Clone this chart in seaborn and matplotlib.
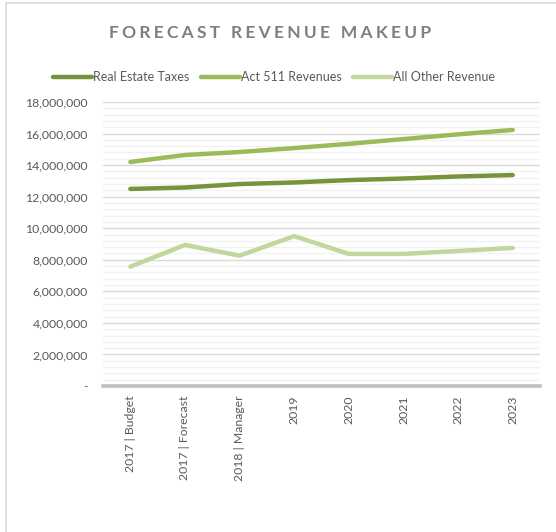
import matplotlib
matplotlib.use("Agg")
import matplotlib.pyplot as plt
import seaborn as sns
import pandas as pd
from matplotlib.ticker import MultipleLocator, FuncFormatter
from matplotlib.lines import Line2D

categories = ["2017 | Budget", "2017 | Forecast", "2018 | Manager", "2019",
              "2020", "2021", "2022", "2023"]
real_estate = [12490000, 12580000, 12800000, 12900000, 13050000, 13150000, 13280000, 13370000]
act511 = [14200000, 14640000, 14830000, 15080000, 15350000, 15650000, 15950000, 16230000]
other = [7560000, 8940000, 8260000, 9500000, 8370000, 8370000, 8560000, 8750000]
series_names = ["Real Estate Taxes", "Act 511 Revenues", "All Other Revenue"]
colors = ["#77933C", "#9BBB59", "#C3D69B"]

sns.set_theme(style="white")
plt.rcParams['font.family'] = ['Lato', 'DejaVu Sans']

rows = []
for name, vals in zip(series_names, [real_estate, act511, other]):
    for i, (c, v) in enumerate(zip(categories, vals)):
        rows.append({"pos": i, "cat": c, "series": name, "value": v})
df = pd.DataFrame(rows)

fig = plt.figure(figsize=(5.56, 5.32), dpi=100)
ax = fig.add_axes([103/556, 1-386/532, (540-103)/556, (386-102)/532])

sns.lineplot(data=df, x="pos", y="value", hue="series", hue_order=series_names,
             palette=colors, ax=ax, linewidth=3.2, legend=False, sort=False)
for ln in ax.get_lines():
    ln.set_solid_capstyle("round")
    ln.set_solid_joinstyle("round")
    ln.set_zorder(3)

ax.set_xlim(-0.5, len(categories) - 0.5)
ax.set_ylim(0, 18000000)
ax.yaxis.set_major_locator(MultipleLocator(2000000))
ax.yaxis.set_minor_locator(MultipleLocator(400000))
ax.yaxis.set_major_formatter(FuncFormatter(lambda v, p: "-" if v == 0 else f"{int(v):,}"))
ax.set_xticks(range(len(categories)))
ax.set_xticklabels(categories, rotation=90, va="top", ha="center")

ax.grid(which="major", axis="y", color="#D9D9D9", linewidth=1.0, zorder=0)
ax.grid(which="minor", axis="y", color="#F2F2F2", linewidth=1.0, zorder=0)
ax.grid(which="major", axis="x", visible=False)
ax.set_axisbelow(True)

for s in ["top", "right", "left"]:
    ax.spines[s].set_visible(False)
ax.spines["bottom"].set_color("#BFBFBF")
ax.spines["bottom"].set_linewidth(2.6)
ax.spines["bottom"].set_zorder(1)

ax.tick_params(axis="y", which="both", length=0, pad=11, labelsize=8.8, labelcolor="#595959")
ax.tick_params(axis="x", which="both", length=0, pad=7, labelsize=8.8, labelcolor="#595959")
ax.set_xlabel("")
ax.set_ylabel("")

# Title with letter spacing
sp = "\u2009\u200a"
title = sp.join("FORECAST") + "\u2002\u2009" + sp.join("REVENUE") + "\u2002\u2009" + sp.join("MAKEUP")
fig.text(270/556, 1-33/532, title, ha="center", va="center", fontsize=12.5,
         fontweight="bold", color="#7F7F7F")

handles = [Line2D([0], [0], color=c, linewidth=3.2, solid_capstyle="round") for c in colors]
fig.legend(handles, series_names, loc="center", bbox_to_anchor=(274/556, 1-77/532),
           ncol=3, frameon=False, fontsize=9, handlelength=3.1, handletextpad=0.1,
           columnspacing=0.9, labelcolor="#595959")

# Partial chart border (left and top)
fig.add_artist(Line2D([6/556, 6/556], [0, 1-3/532], transform=fig.transFigure,
                      color="#D9D9D9", linewidth=1.2))
fig.add_artist(Line2D([6/556, 1], [1-3/532, 1-3/532], transform=fig.transFigure,
                      color="#D9D9D9", linewidth=1.2))

fig.savefig("out.png", dpi=100, facecolor="white")
